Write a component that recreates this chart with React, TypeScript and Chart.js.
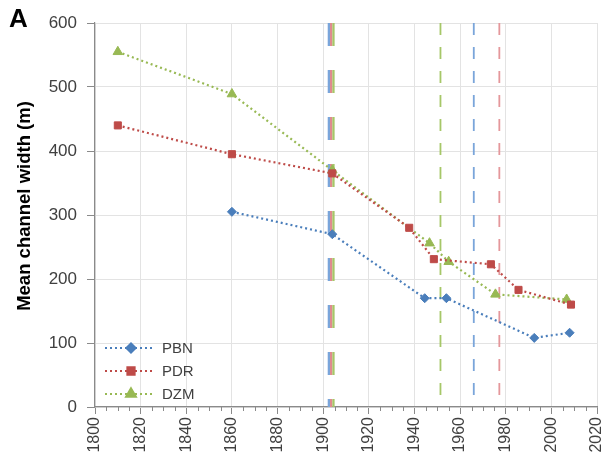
import React, { useEffect, useRef } from "react";
import { Chart, registerables } from "chart.js";
import { drawPoint } from "chart.js/helpers";

Chart.register(...registerables);

const pbnYears = [1860, 1904, 1944.5, 1954, 1992.5, 2008];
const pbnWidth = [305, 270, 170, 170, 108, 116];
const pdrYears = [1810, 1860, 1904, 1937.7, 1948.5, 1973.5, 1985.6, 2008.6];
const pdrWidth = [440, 395, 365, 280, 231, 223, 183, 160];
const dzmYears = [1810, 1860, 1904, 1946.6, 1955, 1975.5, 2006.7];
const dzmWidth = [555, 489, 370, 256, 227, 176, 168];

const seriesNames = ["PBN", "PDR", "DZM"];
const yTicks = [0, 100, 200, 300, 400, 500, 600];
const xMajorTicks = [1800, 1820, 1840, 1860, 1880, 1900, 1920, 1940, 1960, 1980, 2000, 2020];

// vertical reference years
const multiLineYear = 1903.5;
const singleLines = [
  { year: 1951.4, color: "#a6c768" },
  { year: 1966, color: "#7aa5da" },
  { year: 1977.2, color: "#e4979b" },
];

const BLUE = "#4a7ebb";
const RED = "#be4b48";
const GREEN = "#98b954";
const FONT = "'Liberation Sans', Arial, sans-serif";
const TEXT = "#404040";
const AXIS = "#8a8a8a";
const GRID = "#e3e3e3";

const toPts = (xs: number[], ys: number[]) => xs.map((x, i) => ({ x, y: ys[i] }));

export default function App() {
  const ref = useRef<HTMLCanvasElement | null>(null);

  useEffect(() => {
    if (!ref.current) return;

    const refLines = {
      id: "refLines",
      beforeDatasetsDraw(chart: any) {
        const { ctx, chartArea, scales } = chart;
        ctx.save();
        const xm = scales.x.getPixelForValue(multiLineYear);
        const stripes = ["#7aa5da", "#e08a8e", "#a6c768"];
        stripes.forEach((c, i) => {
          ctx.beginPath();
          ctx.strokeStyle = c;
          ctx.lineWidth = 2.3;
          ctx.setLineDash([23, 24]);
          ctx.moveTo(xm + (i - 1) * 2.3, chartArea.top);
          ctx.lineTo(xm + (i - 1) * 2.3, chartArea.bottom);
          ctx.stroke();
        });
        singleLines.forEach((l) => {
          const x = scales.x.getPixelForValue(l.year);
          ctx.beginPath();
          ctx.strokeStyle = l.color;
          ctx.lineWidth = 1.8;
          ctx.setLineDash([12, 12]);
          ctx.moveTo(x, chartArea.top);
          ctx.lineTo(x, chartArea.bottom);
          ctx.stroke();
        });
        ctx.restore();
      },
    };

    const decorations = {
      id: "decorations",
      afterDraw(chart: any) {
        const { ctx, chartArea, scales } = chart;
        ctx.save();
        // minor x ticks
        ctx.strokeStyle = AXIS;
        ctx.lineWidth = 1;
        for (let y = 1805; y < 2020; y += 5) {
          if (y % 20 === 0) continue;
          const x = Math.round(scales.x.getPixelForValue(y)) + 0.5;
          ctx.beginPath();
          ctx.moveTo(x, chartArea.bottom);
          ctx.lineTo(x, chartArea.bottom + 4);
          ctx.stroke();
        }
        // panel letter
        ctx.fillStyle = "#000";
        ctx.font = `bold 26px ${FONT}`;
        ctx.textAlign = "left";
        ctx.textBaseline = "alphabetic";
        ctx.fillText("A", 9, 27);
        // y title
        ctx.save();
        ctx.translate(30, 206);
        ctx.rotate(-Math.PI / 2);
        ctx.font = `bold 18.5px ${FONT}`;
        ctx.textAlign = "center";
        ctx.textBaseline = "alphabetic";
        ctx.fillText("Mean channel width (m)", 0, 0);
        ctx.restore();
        // legend
        const rows = [348, 371, 394];
        chart.data.datasets.forEach((ds: any, i: number) => {
          const y = rows[i];
          ctx.beginPath();
          ctx.strokeStyle = ds.borderColor;
          ctx.lineWidth = ds.borderWidth;
          ctx.setLineDash(ds.borderDash);
          ctx.moveTo(105, y);
          ctx.lineTo(154, y);
          ctx.stroke();
          ctx.setLineDash([]);
          ctx.fillStyle = ds.pointBackgroundColor;
          ctx.strokeStyle = ds.pointBorderColor;
          drawPoint(ctx, { pointStyle: ds.pointStyle, radius: ds.pointRadius, borderWidth: 1, rotation: 0 }, 131, y);
          ctx.fillStyle = TEXT;
          ctx.font = `15px ${FONT}`;
          ctx.textAlign = "left";
          ctx.textBaseline = "middle";
          ctx.fillText(ds.label, 162, y + 1);
        });
        ctx.restore();
      },
    };

    const mk = (label: string, data: any[], color: string, style: string, radius: number) => ({
      label,
      data,
      borderColor: color,
      backgroundColor: color,
      pointBackgroundColor: color,
      pointBorderColor: color,
      borderWidth: 2.2,
      borderDash: [2, 3],
      pointStyle: style,
      pointRadius: radius,
      pointBorderWidth: 1,
      showLine: true,
      tension: 0,
    });

    const chart = new Chart(ref.current, {
      type: "scatter",
      data: {
        datasets: [
          mk(seriesNames[0], toPts(pbnYears, pbnWidth), BLUE, "rectRot", 4.5),
          mk(seriesNames[1], toPts(pdrYears, pdrWidth), RED, "rect", 5),
          mk(seriesNames[2], toPts(dzmYears, dzmWidth), GREEN, "triangle", 5.5),
        ],
      },
      options: {
        animation: false,
        responsive: false,
        maintainAspectRatio: false,
        devicePixelRatio: 1,
        layout: { padding: { left: 0, top: 23, right: 9, bottom: 0 } },
        plugins: { legend: { display: false }, tooltip: { enabled: false }, title: { display: false } },
        scales: {
          x: {
            type: "linear",
            min: 1800,
            max: 2020,
            afterFit: (s: any) => {
              s.height = 56;
              s.paddingLeft = 0;
              s.paddingRight = 0;
            },
            afterBuildTicks: (s: any) => {
              const t: any[] = [];
              for (let v = 1800; v <= 2020; v += 5) t.push({ value: v });
              s.ticks = t;
            },
            border: { color: AXIS, width: 1.2 },
            grid: {
              color: (c: any) => (c.tick && xMajorTicks.includes(c.tick.value) ? GRID : "rgba(0,0,0,0)"),
              tickColor: (c: any) => (c.tick && xMajorTicks.includes(c.tick.value) ? AXIS : "rgba(0,0,0,0)"),
              tickLength: 7,
              lineWidth: 1,
            },
            ticks: {
              autoSkip: false,
              minRotation: 90,
              maxRotation: 90,
              padding: 3,
              color: TEXT,
              font: { family: FONT, size: 16 },
              callback: (v: any) => (xMajorTicks.includes(Number(v)) ? String(v) : ""),
            },
          },
          y: {
            min: 0,
            max: 600,
            afterFit: (s: any) => {
              s.width = 95;
              s.paddingTop = 0;
              s.paddingBottom = 0;
            },
            afterBuildTicks: (s: any) => { s.ticks = yTicks.map((v) => ({ value: v })); },
            border: { color: AXIS, width: 1.2 },
            grid: { color: GRID, tickColor: AXIS, tickLength: 8, lineWidth: 1 },
            ticks: {
              padding: 10,
              color: TEXT,
              font: { family: FONT, size: 17 },
            },
          },
        },
      },
      plugins: [refLines, decorations],
    } as any);

    return () => chart.destroy();
  }, []);

  return (
    <div style={{ position: "absolute", left: 0, top: 0, width: 606, height: 463, background: "#fff" }}>
      <canvas ref={ref} width={606} height={463} style={{ width: 606, height: 463, display: "block" }} />
    </div>
  );
}
